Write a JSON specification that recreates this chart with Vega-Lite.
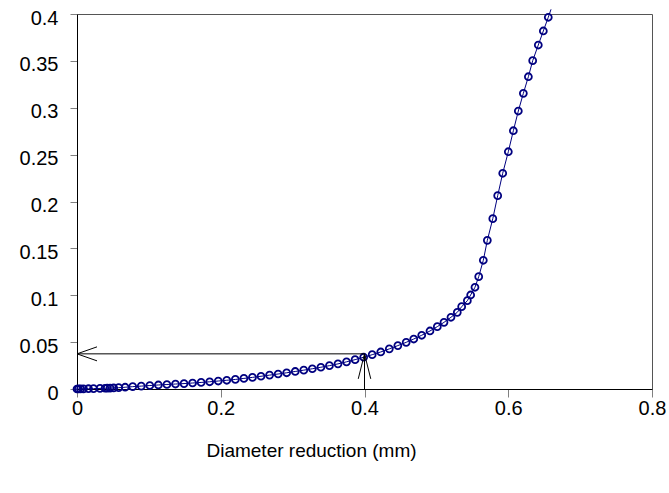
{
  "$schema": "https://vega.github.io/schema/vega-lite/v6.json",
  "width": 575,
  "height": 375,
  "autosize": {"type": "none"},
  "padding": {"left": 77, "top": 14, "right": 17, "bottom": 104},
  "background": "white",
  "config": {
    "font": "Liberation Sans",
    "view": {"stroke": "#555555", "strokeWidth": 1},
    "axis": {"grid": false, "labelColor": "black", "titleColor": "black", "domainColor": "black", "tickColor": "#808080", "labelFont": "Liberation Sans", "titleFont": "Liberation Sans"}
  },
  "datasets": {
    "curve": [
      {"x": 0, "y": 0}, {"x": 0.002, "y": 0.0001}, {"x": 0.005, "y": 0.0001}, {"x": 0.009, "y": 0.0002},
      {"x": 0.016, "y": 0.0003}, {"x": 0.023, "y": 0.0004}, {"x": 0.032, "y": 0.0006}, {"x": 0.039, "y": 0.0008},
      {"x": 0.042, "y": 0.0009}, {"x": 0.046, "y": 0.001}, {"x": 0.051, "y": 0.0011}, {"x": 0.058, "y": 0.0014},
      {"x": 0.067, "y": 0.0019}, {"x": 0.0775, "y": 0.0025}, {"x": 0.0894, "y": 0.0031}, {"x": 0.1013, "y": 0.0037},
      {"x": 0.1132, "y": 0.0043}, {"x": 0.1251, "y": 0.0048}, {"x": 0.137, "y": 0.0053}, {"x": 0.1489, "y": 0.0058},
      {"x": 0.1608, "y": 0.0064}, {"x": 0.1727, "y": 0.007}, {"x": 0.1846, "y": 0.0077}, {"x": 0.1965, "y": 0.0085},
      {"x": 0.2084, "y": 0.0093}, {"x": 0.2203, "y": 0.0102}, {"x": 0.2322, "y": 0.0113}, {"x": 0.2441, "y": 0.0124},
      {"x": 0.256, "y": 0.0136}, {"x": 0.2679, "y": 0.0148}, {"x": 0.2798, "y": 0.016}, {"x": 0.2917, "y": 0.0173},
      {"x": 0.3036, "y": 0.0187}, {"x": 0.3155, "y": 0.0201}, {"x": 0.3274, "y": 0.0216}, {"x": 0.3393, "y": 0.0232},
      {"x": 0.3512, "y": 0.0249}, {"x": 0.3631, "y": 0.0268}, {"x": 0.375, "y": 0.029}, {"x": 0.3869, "y": 0.0313},
      {"x": 0.3988, "y": 0.0339}, {"x": 0.4107, "y": 0.0366}, {"x": 0.4226, "y": 0.0395}, {"x": 0.4345, "y": 0.0428},
      {"x": 0.4464, "y": 0.0463}, {"x": 0.458, "y": 0.0498}, {"x": 0.4685, "y": 0.0533}, {"x": 0.4796, "y": 0.0573},
      {"x": 0.4911, "y": 0.0619}, {"x": 0.5013, "y": 0.0665}, {"x": 0.5106, "y": 0.0711}, {"x": 0.5203, "y": 0.0765},
      {"x": 0.5291, "y": 0.0818}, {"x": 0.5352, "y": 0.0878}, {"x": 0.5431, "y": 0.0942}, {"x": 0.5477, "y": 0.1003},
      {"x": 0.5537, "y": 0.1085}, {"x": 0.5589, "y": 0.1198}, {"x": 0.5653, "y": 0.1373}, {"x": 0.5709, "y": 0.1586},
      {"x": 0.5785, "y": 0.1817}, {"x": 0.5853, "y": 0.2062}, {"x": 0.5923, "y": 0.2301}, {"x": 0.6001, "y": 0.2531},
      {"x": 0.6071, "y": 0.2755}, {"x": 0.614, "y": 0.2965}, {"x": 0.621, "y": 0.3154}, {"x": 0.628, "y": 0.3331},
      {"x": 0.634, "y": 0.3502}, {"x": 0.6418, "y": 0.3669}, {"x": 0.6488, "y": 0.3819}, {"x": 0.6557, "y": 0.3965},
      {"x": 0.6595, "y": 0.405}
    ],
    "arrows": [
      {"x": 0.4, "y": 0.0375, "x2": 0, "y2": 0.0375},
      {"x": 0.4, "y": 0, "x2": 0.4, "y2": 0.0375}
    ],
    "tipLeft": [{"x": 0, "y": 0.0375}],
    "tipUp": [{"x": 0.4, "y": 0.0375}]
  },
  "encoding": {
    "x": {
      "field": "x", "type": "quantitative",
      "scale": {"domain": [0, 0.8], "nice": false, "zero": false},
      "axis": {
        "title": "Diameter reduction (mm)", "values": [0, 0.2, 0.4, 0.6, 0.8], "format": "~f",
        "labelFontSize": 20, "titleFontSize": 19, "titleFontWeight": "normal",
        "tickSize": 8, "labelPadding": 1, "titlePadding": 23, "labelFlush": false,
        "titleX": 234, "titleAnchor": "start", "titleAlign": "center"
      }
    },
    "y": {
      "field": "y", "type": "quantitative",
      "scale": {"domain": [0, 0.4], "nice": false, "zero": false},
      "axis": {
        "title": null, "values": [0, 0.05, 0.1, 0.15, 0.2, 0.25, 0.3, 0.35, 0.4], "format": ".2~f",
        "labelFontSize": 20, "tickSize": 7, "labelPadding": 12, "labelOffset": 4, "labelFlush": false
      }
    }
  },
  "layer": [
    {
      "data": {"name": "curve"},
      "mark": {"type": "line", "color": "#000080", "strokeWidth": 1, "clip": false}
    },
    {
      "data": {"name": "curve"},
      "transform": [{"filter": "datum.y <= 0.4"}],
      "mark": {"type": "point", "shape": "circle", "filled": false, "stroke": "#000080", "strokeWidth": 1.8, "size": 48, "opacity": 1}
    },
    {
      "data": {"name": "arrows"},
      "mark": {"type": "rule", "color": "black", "strokeWidth": 1},
      "encoding": {"x2": {"field": "x2"}, "y2": {"field": "y2"}}
    },
    {
      "data": {"name": "tipLeft"},
      "mark": {"type": "point", "shape": "M1,-0.35L0,0L1,0.35", "filled": false, "stroke": "black", "strokeWidth": 1, "size": 1600, "opacity": 1}
    },
    {
      "data": {"name": "tipUp"},
      "mark": {"type": "point", "shape": "M-0.25,1L0,0L0.25,1", "filled": false, "stroke": "black", "strokeWidth": 1, "size": 2500, "opacity": 1}
    }
  ]
}
